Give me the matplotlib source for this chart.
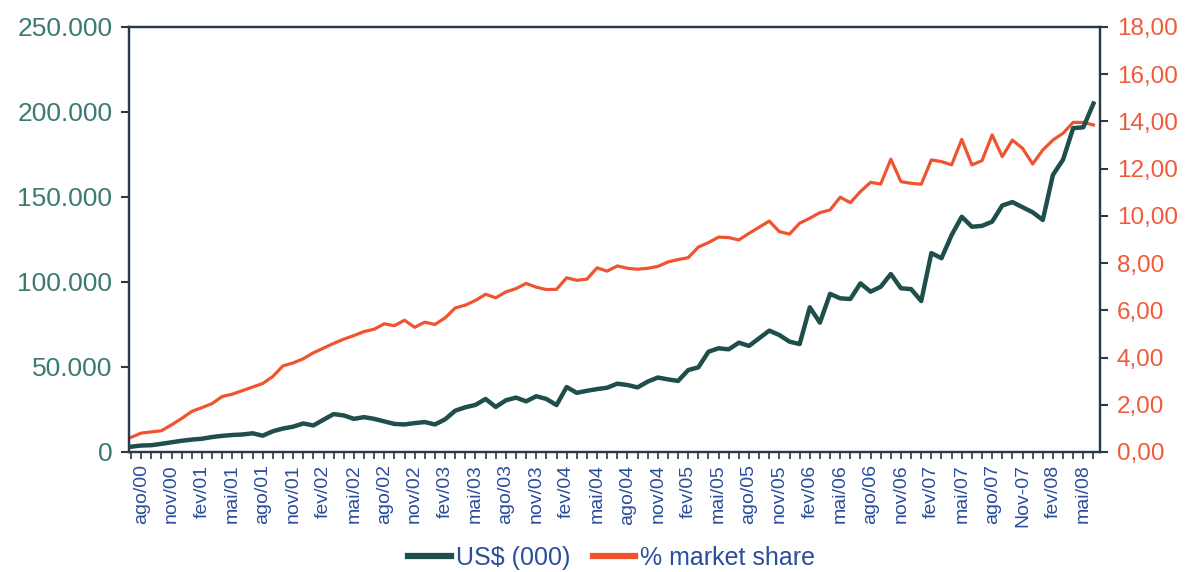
import matplotlib
matplotlib.use("Agg")
import matplotlib.pyplot as plt
from matplotlib.ticker import MultipleLocator

plt.rcParams['font.family'] = ['Liberation Sans', 'DejaVu Sans']

# Monthly values (index 0 = first month plotted)
usd = [3100, 3800, 4000, 4800, 5700, 6600, 7300, 7800, 8800, 9500,
       10000, 10300, 11000, 9600, 12200, 13800, 14900, 16800, 15600, 19000,
       22300, 21500, 19500, 20500, 19500, 18000, 16500, 16200, 17000, 17600,
       16200, 19200, 24300, 26300, 27700, 31200, 26500, 30400, 32000, 29800,
       32800, 31200, 27600, 38200, 34800, 36000, 37000, 37800, 40200, 39400,
       38000, 41400, 43800, 42700, 41800, 48200, 49800, 59000, 61000, 60400,
       64300, 62400, 66900, 71400, 68800, 64900, 63500, 85100, 76100, 93000,
       90400, 90000, 99200, 94300, 97200, 104700, 96300, 95800, 88800, 117000,
       114000, 127600, 138400, 132500, 133000, 135500, 145000, 147000, 144000, 141000,
       136500, 163000, 172000, 190500, 191000, 205000]

share = [0.62, 0.80, 0.85, 0.90, 1.15, 1.42, 1.72, 1.88, 2.05, 2.35,
         2.45, 2.60, 2.75, 2.90, 3.20, 3.65, 3.77, 3.95, 4.20, 4.40,
         4.60, 4.78, 4.93, 5.10, 5.20, 5.43, 5.35, 5.58, 5.28, 5.50,
         5.40, 5.68, 6.10, 6.22, 6.42, 6.68, 6.53, 6.78, 6.92, 7.14,
         6.98, 6.88, 6.89, 7.38, 7.27, 7.32, 7.80, 7.66, 7.88, 7.78,
         7.74, 7.78, 7.86, 8.05, 8.15, 8.23, 8.68, 8.87, 9.10, 9.08,
         8.98, 9.26, 9.52, 9.78, 9.33, 9.23, 9.69, 9.90, 10.14, 10.25,
         10.79, 10.56, 11.03, 11.42, 11.35, 12.40, 11.45, 11.38, 11.34, 12.37,
         12.30, 12.16, 13.24, 12.16, 12.34, 13.43, 12.51, 13.21, 12.86, 12.20,
         12.79, 13.21, 13.50, 13.96, 13.96, 13.85]

x_labels = ["ago/00", "nov/00", "fev/01", "mai/01", "ago/01", "nov/01", "fev/02", "mai/02",
            "ago/02", "nov/02", "fev/03", "mai/03", "ago/03", "nov/03", "fev/04", "mai/04",
            "ago/04", "nov/04", "fev/05", "mai/05", "ago/05", "nov/05", "fev/06", "mai/06",
            "ago/06", "nov/06", "fev/07", "mai/07", "ago/07", "Nov-07", "fev/08", "mai/08"]

left_ticks = [0, 50000, 100000, 150000, 200000, 250000]
left_labels = ["0", "50.000", "100.000", "150.000", "200.000", "250.000"]
right_ticks = [0, 2, 4, 6, 8, 10, 12, 14, 16, 18]
right_labels = ["0,00", "2,00", "4,00", "6,00", "8,00", "10,00", "12,00", "14,00", "16,00", "18,00"]

series_names = ["US$ (000)", "% market share"]

GREEN = "#1e4f4b"
RED = "#f0532f"
LEFT_TXT = "#3b7a72"
RIGHT_TXT = "#f05a3a"
BLUE_TXT = "#2a4d9c"
SPINE = "#2b3a4a"

fig = plt.figure(figsize=(11.9, 5.72), dpi=100)
ax = fig.add_axes([0.1084, 0.2098, 0.9244 - 0.1084, 0.9528 - 0.2098])
ax2 = ax.twinx()

xs = list(range(len(usd)))
l1, = ax.plot(xs, usd, color=GREEN, lw=3.2, solid_joinstyle='round', zorder=3)
l2, = ax2.plot(xs, share, color=RED, lw=2.3, solid_joinstyle='round', zorder=2)

ax.set_xlim(-0.2, 95.65)
ax.set_ylim(0, 250000)
ax2.set_ylim(0, 18)

ax.set_yticks(left_ticks)
ax.set_yticklabels(left_labels, fontsize=19, color=LEFT_TXT)
ax2.set_yticks(right_ticks)
ax2.set_yticklabels(right_labels, fontsize=17.5, color=RIGHT_TXT)

label_pos = [1 + 3 * k for k in range(len(x_labels))]
ax.set_xticks(label_pos)
ax.set_xticklabels(x_labels, rotation=90, fontsize=14, color=BLUE_TXT)
ax.xaxis.set_minor_locator(MultipleLocator(1))

ax.tick_params(axis='x', which='both', direction='out', length=5, width=1.2, color=SPINE, pad=4)
ax.tick_params(axis='y', direction='out', length=6, width=1.5, color=SPINE, pad=6)
ax2.tick_params(axis='y', direction='out', length=6, width=1.5, color=SPINE, pad=6)

for a in (ax, ax2):
    for s in a.spines.values():
        s.set_color(SPINE)
        s.set_linewidth(1.6)

ax.set_zorder(ax2.get_zorder() + 1)
ax.patch.set_visible(False)

leg = fig.legend([l1, l2], series_names, loc='center', bbox_to_anchor=(0.514, 0.025),
                 ncol=2, frameon=False, fontsize=18, handlelength=1.7,
                 handletextpad=0.2, columnspacing=0.9)
for t in leg.get_texts():
    t.set_color(BLUE_TXT)
for h in leg.legend_handles:
    h.set_linewidth(4.5)

fig.savefig("out.png", dpi=100)
